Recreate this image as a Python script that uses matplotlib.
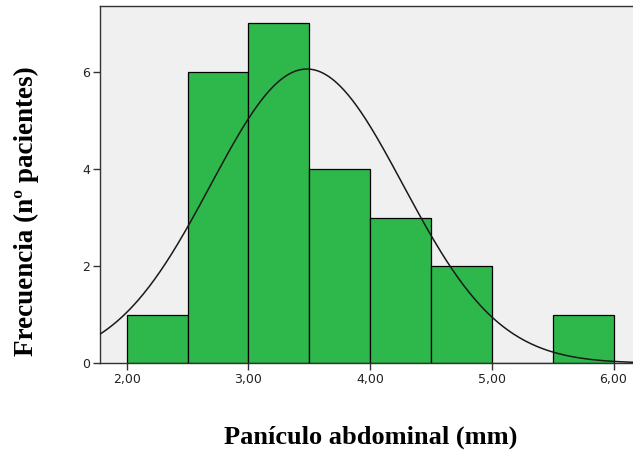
import numpy as np
import matplotlib
matplotlib.use('Agg')
import matplotlib.pyplot as plt

# histogram data
bin_edges = [2.0, 2.5, 3.0, 3.5, 4.0, 4.5, 5.0, 5.5, 6.0]
counts = [1, 6, 7, 4, 3, 2, 0, 1]
curve_mean = 3.48
curve_sd = 0.79
x_ticks = [2.0, 3.0, 4.0, 5.0, 6.0]
x_tick_labels = ['2,00', '3,00', '4,00', '5,00', '6,00']
y_ticks = [0, 2, 4, 6]

fig = plt.figure(figsize=(6.33, 4.54), dpi=100)
ax = fig.add_axes([0.158, 0.200, 0.842, 0.787])
ax.set_facecolor('#f0f0f0')

widths = np.diff(bin_edges)
ax.bar(bin_edges[:-1], counts, width=widths, align='edge',
       color='#2eb84b', edgecolor='black', linewidth=0.9, zorder=2)

# normal curve scaled to counts
n = sum(counts)
xs = np.linspace(1.7, 6.3, 400)
ys = n * widths[0] / (curve_sd * np.sqrt(2 * np.pi)) * np.exp(-0.5 * ((xs - curve_mean) / curve_sd) ** 2)
ax.plot(xs, ys, color='#1a1a1a', linewidth=1.1, zorder=3)

ax.set_xlim(1.78, 6.16)
ax.set_ylim(0, 7.36)
ax.set_xticks(x_ticks)
ax.set_xticklabels(x_tick_labels)
ax.set_yticks(y_ticks)
ax.tick_params(direction='out', length=5, width=1, color='#333333',
               labelsize=9, labelcolor='#222222', pad=2)

for side in ['left', 'bottom', 'top']:
    ax.spines[side].set_color('#333333')
    ax.spines[side].set_linewidth(1)
ax.spines['right'].set_visible(False)

serif = ['Liberation Serif', 'DejaVu Serif']
fig.text(0.586, 0.037, 'Panículo abdominal (mm)', ha='center', va='center',
         fontsize=19, fontweight='bold', family=serif)
fig.text(0.041, 0.535, 'Frecuencia (nº pacientes)', ha='center', va='center',
         rotation=90, fontsize=19.5, fontweight='bold', family=serif)

fig.savefig('out.png', dpi=100)
